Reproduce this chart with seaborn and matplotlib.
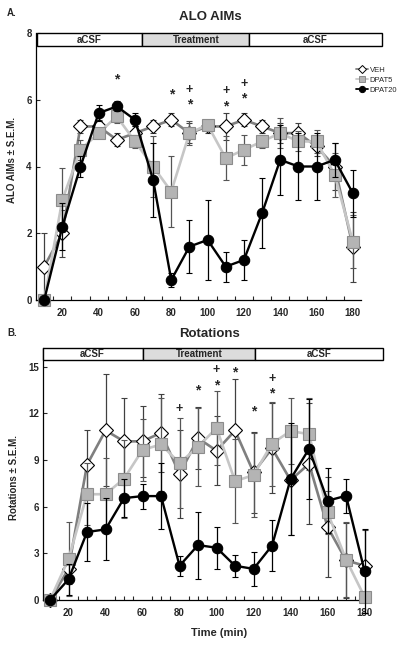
import numpy as np
import pandas as pd
import matplotlib
matplotlib.use("Agg")
import matplotlib.pyplot as plt
import seaborn as sns
from matplotlib.patches import Rectangle
from matplotlib.lines import Line2D

sns.set_theme(style="white")
plt.rcParams['font.family'] = ['Liberation Sans', 'DejaVu Sans']

# ---------------- data ----------------
time = [10, 20, 30, 40, 50, 60, 70, 80, 90, 100, 110, 120, 130, 140, 150, 160, 170, 180]
groups = ["VEH", "DPAT5", "DPAT20"]

A_VEH = [1.0, 2.0, 5.2, 5.2, 4.8, 5.0, 5.2, 5.4, 5.0, 5.2, 5.2, 5.4, 5.2, 5.0, 5.0, 4.6, 4.0, 1.6]
A_VEH_err = [1.0, 0.7, 0.2, 0.2, 0.2, 0.2, 0.2, 0.2, 0.3, 0.2, 0.4, 0.2, 0.2, 0.3, 0.3, 0.3, 0.7, 1.05]
A_DPAT5 = [0.0, 3.0, 4.5, 5.0, 5.5, 4.75, 4.0, 3.25, 5.0, 5.25, 4.25, 4.5, 4.75, 5.0, 4.75, 4.75, 3.75, 1.75]
A_DPAT5_err = [0.0, 0.95, 0.3, 0.15, 0.2, 0.2, 0.9, 1.05, 0.35, 0.1, 0.65, 0.45, 0.2, 0.45, 0.3, 0.35, 0.65, 0.8]
A_DPAT20 = [0.0, 2.2, 4.0, 5.6, 5.8, 5.4, 3.6, 0.6, 1.6, 1.8, 1.0, 1.2, 2.6, 4.2, 4.0, 4.0, 4.2, 3.2]
A_DPAT20_err = [0.0, 0.7, 0.3, 0.25, 0.15, 0.2, 1.1, 0.2, 0.8, 1.2, 0.45, 0.6, 1.05, 1.05, 1.0, 1.0, 0.5, 0.7]

B_VEH = [0.0, 2.0, 8.7, 10.9, 10.2, 10.2, 10.75, 8.1, 10.4, 9.6, 10.9, 8.2, 9.75, 7.7, 8.76, 4.7, 2.55, 2.2]
B_VEH_err = [0.0, 1.0, 2.2, 3.6, 2.8, 2.3, 2.5, 2.8, 2.0, 2.2, 3.3, 2.6, 2.9, 3.5, 3.9, 3.2, 2.4, 2.3]
B_DPAT5 = [0.0, 2.63, 6.8, 6.8, 7.8, 9.65, 10.0, 8.8, 9.85, 11.05, 7.64, 8.03, 10.06, 10.86, 10.66, 5.63, 2.6, 0.2]
B_DPAT5_err = [0.0, 2.4, 2.0, 2.3, 2.5, 2.0, 3.0, 2.9, 2.5, 2.4, 2.7, 2.7, 2.7, 2.1, 2.3, 1.4, 2.4, 0.3]
B_DPAT20 = [0.0, 1.33, 4.37, 4.54, 6.55, 6.68, 6.68, 2.2, 3.53, 3.36, 2.2, 2.0, 3.5, 7.77, 9.72, 6.38, 6.7, 1.86]
B_DPAT20_err = [0.0, 1.0, 1.85, 2.0, 1.2, 0.8, 2.1, 0.65, 2.15, 1.35, 0.7, 1.1, 1.65, 3.6, 3.2, 2.1, 1.1, 2.7]

A_star_t = [50, 80, 90, 110, 120]
A_star_y = [6.6, 6.15, 5.87, 5.8, 6.05]
A_plus_t = [90, 110, 120]
A_plus_y = [6.3, 6.25, 6.47]
B_star_t = [90, 100, 110, 120, 130]
B_star_y = [13.5, 13.8, 14.6, 12.15, 13.3]
B_plus_t = [80, 100, 130]
B_plus_y = [12.27, 14.8, 14.2]

phase_labels = ["aCSF", "Treatment", "aCSF"]
A_phase_edges = [6, 64, 123, 196]
B_phase_edges = [6, 60, 121, 190]

x_ticks = [20, 40, 60, 80, 100, 120, 140, 160, 180]
A_minor_ticks = [15, 25, 35, 45, 55, 65, 75, 85, 95, 105, 115, 125, 135, 145, 155, 165, 175]
B_minor_ticks = [15, 20, 25, 30, 35, 40, 45, 50, 55, 60, 65, 70, 75, 80, 85, 90, 95, 100,
                 105, 110, 115, 120, 125, 130, 135, 140, 145, 150, 155, 160, 165, 170, 175, 180]
A_yticks = [0, 2, 4, 6, 8]
B_yticks = [0, 3, 6, 9, 12, 15]

# ---------------- styles ----------------
line_col = {"VEH": "#7f7f7f", "DPAT5": "#c6c6c6", "DPAT20": "#000000"}
mk = {"VEH": "D", "DPAT5": "s", "DPAT20": "o"}
mface = {"VEH": "white", "DPAT5": "#b4b4b4", "DPAT20": "black"}
medge = {"VEH": "black", "DPAT5": "#8c8c8c", "DPAT20": "black"}
msize = {"VEH": 7, "DPAT5": 8, "DPAT20": 7.5}
ecol = {"VEH": "#404040", "DPAT5": "#555555", "DPAT20": "black"}


def make_df(v, d5, d20, ev, e5, e20):
    rows = []
    for g, vals, errs in zip(groups, [v, d5, d20], [ev, e5, e20]):
        for t, y, e in zip(time, vals, errs):
            rows.append({"time": t, "value": y, "err": e, "group": g})
    return pd.DataFrame(rows)


dfA = make_df(A_VEH, A_DPAT5, A_DPAT20, A_VEH_err, A_DPAT5_err, A_DPAT20_err)
dfB = make_df(B_VEH, B_DPAT5, B_DPAT20, B_VEH_err, B_DPAT5_err, B_DPAT20_err)

W, H = 406, 646
fig = plt.figure(figsize=(W / 100, H / 100), dpi=100)


def ax_rect(l, r, t, b):
    return [l / W, 1 - b / H, (r - l) / W, (b - t) / H]


axA = fig.add_axes(ax_rect(36, 361, 33, 300))
axB = fig.add_axes(ax_rect(43, 369, 348, 600))


def draw(ax, df, xlim, ylim, yticks, edges, band_lo, band_hi, stars, pluses, legend, minor):
    for i, g in enumerate(groups):
        sub = df[df.group == g]
        ax.errorbar(sub.time, sub.value, yerr=sub.err, fmt="none", ecolor=ecol[g],
                    elinewidth=0.9, capsize=2, capthick=0.8, zorder=2 + i, clip_on=False)
        sns.lineplot(data=sub, x="time", y="value", ax=ax, color=line_col[g],
                     lw=1.9 if g != "DPAT20" else 1.7, marker=mk[g], markersize=msize[g],
                     markerfacecolor=mface[g], markeredgecolor=medge[g], markeredgewidth=0.8,
                     label=g, zorder=3 + i, clip_on=False, legend=False)
    ax.set_xlim(*xlim)
    ax.set_ylim(*ylim)
    ax.set_xticks(x_ticks)
    ax.set_xticks(minor, minor=True)
    ax.set_yticks(yticks)
    ax.tick_params(axis="both", which="both", direction="in", length=3, width=0.8,
                   labelsize=7, pad=3, left=True, bottom=True)
    ax.tick_params(axis="x", which="major", length=0, pad=6)
    for lab in ax.get_xticklabels() + ax.get_yticklabels():
        lab.set_fontweight("bold")
    ax.set_xlabel("")
    ax.set_ylabel("")
    for s in ["top", "right"]:
        ax.spines[s].set_visible(False)
    for s in ["left", "bottom"]:
        ax.spines[s].set_color("black")
        ax.spines[s].set_linewidth(0.9)
    # phase band
    cols = ["white", "#dcdcdc", "white"]
    for j, lab in enumerate(phase_labels):
        x0, x1 = edges[j], edges[j + 1]
        ax.add_patch(Rectangle((x0, band_lo), x1 - x0, band_hi - band_lo, facecolor=cols[j],
                               edgecolor="black", lw=1.0, clip_on=False, zorder=10))
        ax.text((x0 + x1) / 2, (band_lo + band_hi) / 2, lab, ha="center", va="center",
                fontsize=7, fontweight="bold", zorder=11, clip_on=False)
    for t, y in zip(*stars):
        ax.text(t, y, "*", ha="center", va="center", fontsize=10, fontweight="bold")
    for t, y in zip(*pluses):
        ax.text(t, y, "+", ha="center", va="center", fontsize=9, fontweight="bold")
    if legend:
        handles = [Line2D([], [], color=line_col[g], lw=1.3, marker=mk[g],
                          markersize=msize[g] * 0.6, markerfacecolor=mface[g],
                          markeredgecolor=medge[g], markeredgewidth=0.7) for g in groups]
        ax.legend(handles, groups, loc="upper left", bbox_to_anchor=(0.975, 0.885),
                  frameon=False, fontsize=5.5, handlelength=1.6, handletextpad=0.2,
                  labelspacing=0.35, borderaxespad=0)


draw(axA, dfA, (5.5, 184.5), (0, 8), A_yticks, A_phase_edges, 7.6, 8.0,
     (A_star_t, A_star_y), (A_plus_t, A_plus_y), True, A_minor_ticks)
draw(axB, dfB, (6.2, 182.4), (0, 16.2), B_yticks, B_phase_edges, 15.4, 16.2,
     (B_star_t, B_star_y), (B_plus_t, B_plus_y), False, B_minor_ticks)

fig.text(210 / W, 1 - 17 / H, "ALO AIMs", ha="center", va="center", fontsize=9.5, fontweight="bold")
fig.text(12 / W, 1 - 13 / H, "A.", ha="center", va="center", fontsize=7, fontweight="bold")
fig.text(210 / W, 1 - 334 / H, "Rotations", ha="center", va="center", fontsize=9.5, fontweight="bold")
fig.text(12 / W, 1 - 333 / H, "B.", ha="center", va="center", fontsize=7, fontweight="bold")
fig.text(12 / W, 1 - 160 / H, "ALO AIMs ± S.E.M.", ha="center", va="center", rotation=90,
         fontsize=7, fontweight="bold")
fig.text(14 / W, 1 - 478 / H, "Rotations ± S.E.M.", ha="center", va="center", rotation=90,
         fontsize=7, fontweight="bold")
fig.text(219 / W, 1 - 633 / H, "Time (min)", ha="center", va="center", fontsize=8, fontweight="bold")

fig.savefig("out.png", dpi=100)
